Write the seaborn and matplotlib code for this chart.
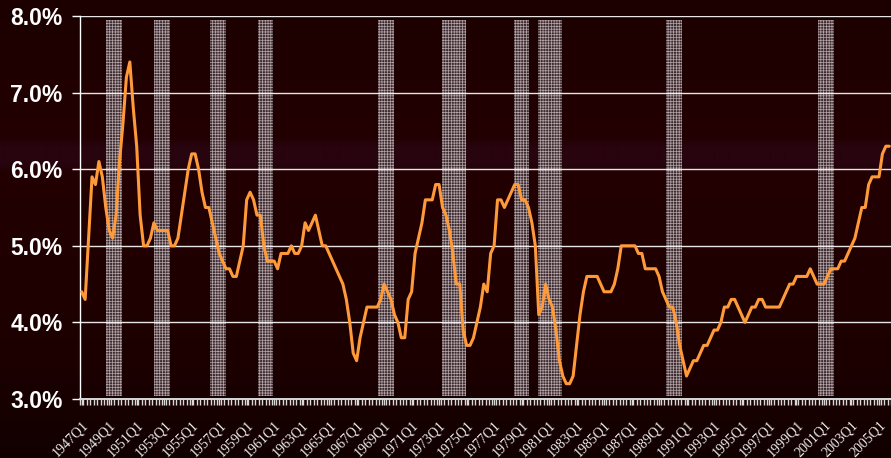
import numpy as np
import pandas as pd
import matplotlib
matplotlib.use("Agg")
import matplotlib.pyplot as plt
from matplotlib.colors import LinearSegmentedColormap
import seaborn as sns

# ---- data: quarterly rate (%), 1947Q1 onward, grouped by decade ----
start_year = 1947
rate_1940s = [4.4, 4.3, 5.1, 5.9, 5.8, 6.1, 5.9, 5.5, 5.2, 5.1, 5.4, 6.1]
rate_1950s = [6.6, 7.2, 7.4, 6.8, 6.3, 5.4, 5.0, 5.0, 5.1, 5.3, 5.2, 5.2,
              5.2, 5.2, 5.0, 5.0, 5.1, 5.4, 5.7, 6.0, 6.2, 6.2, 6.0, 5.7,
              5.5, 5.5, 5.3, 5.1, 4.9, 4.8, 4.7, 4.7, 4.6, 4.6, 4.8, 5.0,
              5.6, 5.7, 5.6, 5.4]
rate_1960s = [5.4, 5.0, 4.8, 4.8, 4.8, 4.7, 4.9, 4.9, 4.9, 5.0, 4.9, 4.9,
              5.0, 5.3, 5.2, 5.3, 5.4, 5.2, 5.0, 5.0, 4.9, 4.8, 4.7, 4.6,
              4.5, 4.3, 4.0, 3.6, 3.5, 3.8, 4.0, 4.2, 4.2, 4.2, 4.2, 4.3,
              4.5, 4.4, 4.3, 4.1]
rate_1970s = [4.0, 3.8, 3.8, 4.3, 4.4, 4.9, 5.1, 5.3, 5.6, 5.6, 5.6, 5.8,
              5.8, 5.5, 5.4, 5.2, 4.9, 4.5, 4.5, 3.9, 3.7, 3.7, 3.8, 4.0,
              4.2, 4.5, 4.4, 4.9, 5.0, 5.6, 5.6, 5.5, 5.6, 5.7, 5.8, 5.8,
              5.6, 5.6, 5.5, 5.3]
rate_1980s = [5.0, 4.1, 4.2, 4.5, 4.3, 4.2, 3.9, 3.5, 3.3, 3.2, 3.2, 3.3,
              3.7, 4.1, 4.4, 4.6, 4.6, 4.6, 4.6, 4.5, 4.4, 4.4, 4.4, 4.5,
              4.7, 5.0, 5.0, 5.0, 5.0, 5.0, 4.9, 4.9, 4.7, 4.7, 4.7, 4.7,
              4.6, 4.4, 4.3, 4.2]
rate_1990s = [4.2, 4.0, 3.7, 3.5, 3.3, 3.4, 3.5, 3.5, 3.6, 3.7, 3.7, 3.8,
              3.9, 3.9, 4.0, 4.2, 4.2, 4.3, 4.3, 4.2, 4.1, 4.0, 4.1, 4.2,
              4.2, 4.3, 4.3, 4.2, 4.2, 4.2, 4.2, 4.2, 4.3, 4.4, 4.5, 4.5,
              4.6, 4.6, 4.6, 4.6]
rate_2000s = [4.7, 4.6, 4.5, 4.5, 4.5, 4.6, 4.7, 4.7, 4.7, 4.8, 4.8, 4.9,
              5.0, 5.1, 5.3, 5.5, 5.5, 5.8, 5.9, 5.9, 5.9, 6.2, 6.3, 6.3]

# shaded periods (decimal years)
shade_start = [1948.77, 1952.26, 1956.34, 1959.83, 1968.56,
               1973.22, 1978.46, 1980.21, 1989.53, 2000.59]
shade_end = [1949.93, 1953.42, 1957.51, 1960.92, 1969.73,
             1974.97, 1979.56, 1981.96, 1990.70, 2001.76]

y_ticks = [3.0, 4.0, 5.0, 6.0, 7.0, 8.0]
label_every = 8

rate = (rate_1940s + rate_1950s + rate_1960s + rate_1970s
        + rate_1980s + rate_1990s + rate_2000s)
n = len(rate)
quarters = [f"{start_year + i // 4}Q{i % 4 + 1}" for i in range(n)]
df = pd.DataFrame({"pos": np.arange(n), "quarter": quarters, "rate": rate})

# ---- style ----
sns.set_style("dark")
plt.rcParams["font.family"] = ["Liberation Sans", "DejaVu Sans"]
plt.rcParams["hatch.linewidth"] = 0.5

fig = plt.figure(figsize=(8.91, 4.58), dpi=100)
fig.patch.set_facecolor("#1e0000")

# vertical background gradient across the whole figure
bg = fig.add_axes([0, 0, 1, 1], zorder=-10)
stops = [(0.00, "#1c0000"), (0.30, "#230002"), (0.32, "#28040f"),
         (0.355, "#28040f"), (0.375, "#230002"), (0.80, "#1c0000"),
         (1.00, "#120000")]
cmap = LinearSegmentedColormap.from_list("bg", stops)
grad = np.linspace(0, 1, 458).reshape(-1, 1)
bg.imshow(grad, aspect="auto", cmap=cmap, extent=[0, 1, 0, 1],
          origin="upper", interpolation="bilinear")
bg.set_axis_off()

ax = fig.add_axes([80 / 891, 1 - 399 / 458, 1 - 80 / 891, (399 - 16) / 458])
ax.patch.set_alpha(0)

# shaded periods
for s, e in zip(shade_start, shade_end):
    ax.axvspan((s - start_year) * 4, (e - start_year) * 4, ymin=0.008, ymax=0.99,
               facecolor="#3c2c30", edgecolor="#b5a5a9", hatch="++++++",
               linewidth=0, zorder=1)

sns.lineplot(data=df, x="pos", y="rate", ax=ax, color="#ff9a3a",
             linewidth=2.2, zorder=3)

ax.set_xlim(-0.5, 235.3)
ax.set_ylim(3.0, 8.0)
ax.set_xlabel("")
ax.set_ylabel("")

ax.set_yticks(y_ticks)
ax.set_yticklabels([f"{v:.1f}%" for v in y_ticks], fontsize=16.5,
                   fontweight="bold", color="white")
ax.tick_params(axis="y", direction="out", length=6, width=1, color="white",
               pad=6.5, left=True)

major = np.arange(0, n, label_every)
ax.set_xticks(major)
ax.set_xticklabels([quarters[i] for i in major], rotation=45, ha="right",
                   va="top", rotation_mode="anchor", fontsize=10,
                   family=["Liberation Serif", "DejaVu Serif"], color="#ececec")
ax.set_xticks(np.arange(-0.5, n, 1), minor=True)
ax.tick_params(axis="x", which="both", direction="out", length=4, width=1,
               color="#d8d8d8", bottom=True)
ax.tick_params(axis="x", which="major", pad=10)

ax.set_axisbelow("line")
ax.grid(True, axis="y", color="white", linewidth=1.0, alpha=0.9)
ax.grid(False, axis="x")

for side in ("top", "right"):
    ax.spines[side].set_visible(False)
ax.spines["left"].set_color("white")
ax.spines["left"].set_linewidth(1.0)
ax.spines["bottom"].set_color("#d8d8d8")
ax.spines["bottom"].set_linewidth(1.4)

fig.savefig("out.png", dpi=100, facecolor=fig.get_facecolor())
